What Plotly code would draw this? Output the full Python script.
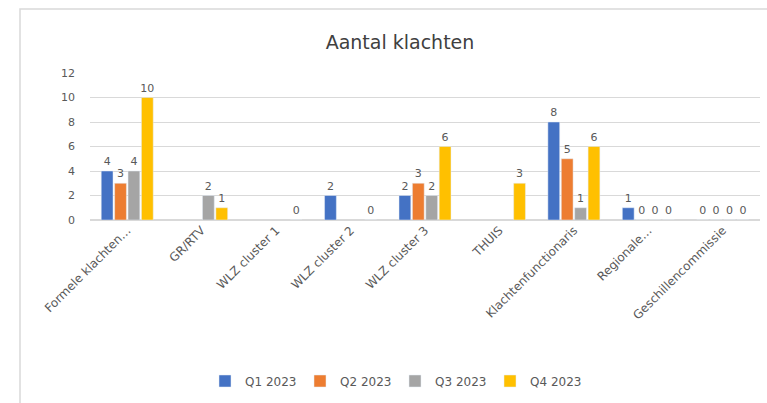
import plotly.graph_objects as go

categories = ["Formele klachten…", "GR/RTV", "WLZ cluster 1", "WLZ cluster 2",
              "WLZ cluster 3", "THUIS", "Klachtenfunctionaris", "Regionale…",
              "Geschillencommissie"]
series_names = ["Q1 2023", "Q2 2023", "Q3 2023", "Q4 2023"]
q1 = [4, None, None, 2, 2, None, 8, 1, 0]
q2 = [3, None, None, None, 3, None, 5, 0, 0]
q3 = [4, 2, None, None, 2, None, 1, 0, 0]
q4 = [10, 1, 0, 0, 6, 3, 6, 0, 0]
colors = ["#4472C4", "#ED7D31", "#A5A5A5", "#FFC000"]
y_ticks = [0, 2, 4, 6, 8, 10, 12]

FONT = "DejaVu Sans"
fig = go.Figure()
for name, vals, col in zip(series_names, [q1, q2, q3, q4], colors):
    fig.add_trace(go.Bar(
        name=name, x=categories, y=vals, marker_color=col,
        text=[("" if v is None else str(v)) for v in vals],
        textposition="outside", cliponaxis=False, constraintext="none",
        textfont=dict(family=FONT, size=11, color="#595959"),
    ))

W, H = 767, 403
L, R, T, B = 90, 7, 73, 183
pw, ph = W - L - R, H - T - B
fig.update_layout(
    width=W, height=H, barmode="group", bargap=0.28, bargroupgap=0.12,
    margin=dict(l=L, r=R, t=T, b=B),
    paper_bgcolor="white", plot_bgcolor="white",
    font=dict(family=FONT, size=11, color="#595959"),
    title=dict(text="Aantal klachten", x=400 / W, xref="container", xanchor="center",
               y=1 - 42 / H, yref="container", yanchor="middle",
               font=dict(family=FONT, size=19, color="#404040")),
    legend=dict(orientation="h", xref="container", yref="container",
                x=395 / W, xanchor="center", y=1 - 381 / H, yanchor="middle",
                font=dict(family=FONT, size=12, color="#595959"),
                itemwidth=30, entrywidth=50, entrywidthmode="pixels",
                traceorder="normal"),
    showlegend=True,
)
fig.update_xaxes(tickangle=-45, showgrid=False, showline=False, ticks="",
                 tickfont=dict(family=FONT, size=12, color="#595959"))
fig.update_yaxes(range=[0, 12], tickvals=y_ticks, showgrid=True, gridcolor="#D9D9D9",
                 zeroline=True, zerolinecolor="#D9D9D9", showline=False, ticks="",
                 ticklabelstandoff=14,
                 tickfont=dict(family=FONT, size=11, color="#595959"))
fig.add_shape(type="rect", xref="paper", yref="paper",
              x0=(20 - L) / pw, x1=(W + 5 - L) / pw,
              y0=-(H + 5 - T - ph) / ph,
              y1=1 + (T - 9) / ph,
              line=dict(color="#D9D9D9", width=1.5), fillcolor="rgba(0,0,0,0)", layer="below")
fig.write_html("out.html")
